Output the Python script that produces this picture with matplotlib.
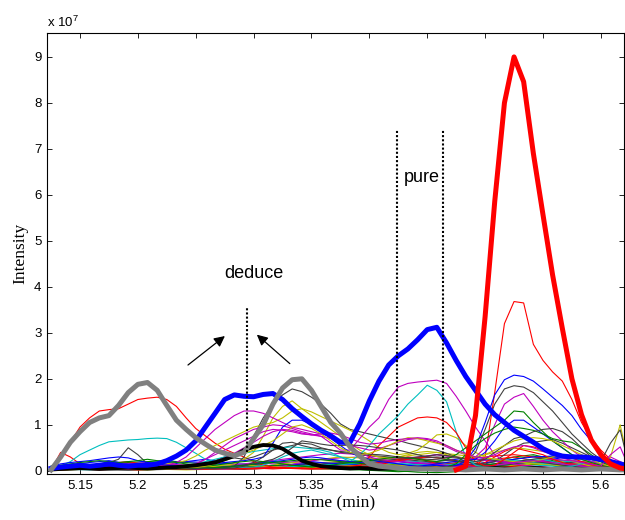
import matplotlib
matplotlib.use("Agg")
import matplotlib.pyplot as plt
from matplotlib.ticker import FuncFormatter

# scan times (min), one scan every 0.5 s
scan_time = [5.1250, 5.1333, 5.1417, 5.1500, 5.1583, 5.1667, 5.1750, 5.1833, 5.1917, 5.2000,
             5.2083, 5.2167, 5.2250, 5.2333, 5.2417, 5.2500, 5.2583, 5.2667, 5.2750, 5.2833,
             5.2917, 5.3000, 5.3083, 5.3167, 5.3250, 5.3333, 5.3417, 5.3500, 5.3583, 5.3667,
             5.3750, 5.3833, 5.3917, 5.4000, 5.4083, 5.4167, 5.4250, 5.4333, 5.4417, 5.4500,
             5.4583, 5.4667, 5.4750, 5.4833, 5.4917, 5.5000, 5.5083, 5.5167, 5.5250, 5.5333,
             5.5417, 5.5500, 5.5583, 5.5667, 5.5750, 5.5833, 5.5917, 5.6000, 5.6083, 5.6167,
             5.6250]

# intensities in units of 1e7
# the pure compound trace is only extracted from scan 42 on
red_start = 42
red_main = [0.02, 0.10, 1.20, 3.35, 5.85, 8.00, 9.00, 8.46,
            6.90, 5.57, 4.26, 3.10, 2.00, 1.22, 0.67, 0.35, 0.15, 0.06, 0.03]
blue_main = [0.05, 0.08, 0.10, 0.12, 0.10, 0.12, 0.15, 0.12, 0.10, 0.12,
             0.12, 0.15, 0.22, 0.32, 0.45, 0.65, 0.95, 1.25, 1.55, 1.65,
             1.62, 1.61, 1.66, 1.68, 1.55, 1.35, 1.18, 1.02, 0.88, 0.76,
             0.62, 0.62, 1.02, 1.52, 1.95, 2.30, 2.50, 2.65, 2.85, 3.07,
             3.12, 2.78, 2.40, 2.05, 1.75, 1.45, 1.22, 1.05, 0.88, 0.75,
             0.62, 0.48, 0.38, 0.32, 0.30, 0.30, 0.28, 0.25, 0.20, 0.15, 0.10]
gray_main = [0.02, 0.30, 0.62, 0.85, 1.05, 1.15, 1.20, 1.42, 1.70, 1.88,
             1.92, 1.75, 1.42, 1.10, 0.90, 0.72, 0.58, 0.45, 0.38, 0.33,
             0.40, 0.70, 1.00, 1.45, 1.80, 1.98, 2.00, 1.75, 1.40, 1.05,
             0.82, 0.52, 0.32, 0.15, 0.10, 0.08, 0.06, 0.05, 0.04, 0.04,
             0.03, 0.04, 0.03, 0.02, 0.03, 0.04, 0.03, 0.02, 0.03, 0.04,
             0.03, 0.02, 0.03, 0.04, 0.03, 0.02, 0.03, 0.04, 0.03, 0.02, 0.02]
black_main = [0.03, 0.04, 0.05, 0.06, 0.05, 0.04, 0.05, 0.06, 0.07, 0.06,
              0.05, 0.06, 0.07, 0.08, 0.10, 0.12, 0.15, 0.18, 0.25, 0.32,
              0.45, 0.52, 0.56, 0.55, 0.48, 0.35, 0.22, 0.15, 0.10, 0.08,
              0.06, 0.05, 0.06, 0.05, 0.04, 0.05, 0.06, 0.05, 0.04, 0.05,
              0.04, 0.05, 0.04, 0.03, 0.04, 0.05, 0.06, 0.05, 0.04, 0.05,
              0.06, 0.05, 0.04, 0.05, 0.04, 0.03, 0.04, 0.05, 0.04, 0.03, 0.02]

# thin traces, full scan rate
ion_traces = [
    ('r', [0.03, 0.04, 0.05, 0.04, 0.03, 0.04, 0.05, 0.06, 0.05, 0.04,
           0.03, 0.04, 0.05, 0.06, 0.05, 0.04, 0.03, 0.04, 0.05, 0.06,
           0.05, 0.04, 0.05, 0.06, 0.07, 0.06, 0.05, 0.04, 0.05, 0.06,
           0.08, 0.10, 0.12, 0.15, 0.18, 0.20, 0.22, 0.25, 0.28, 0.30,
           0.28, 0.25, 0.22, 0.15, 0.10, 0.30, 1.70, 3.20, 3.68, 3.65,
           2.75, 2.40, 2.15, 1.95, 1.55, 1.05, 0.70, 0.45, 0.25, 0.10, 0.05]),
    ('r', [0.05, 0.30, 0.62, 0.95, 1.15, 1.30, 1.33, 1.35, 1.45, 1.55,
           1.58, 1.60, 1.55, 1.40, 1.15, 0.92, 0.76, 0.60, 0.47, 0.38,
           0.30, 0.20, 0.12, 0.08, 0.06, 0.05, 0.06, 0.05, 0.04, 0.05,
           0.06, 0.05, 0.04, 0.05, 0.06, 0.05, 0.04, 0.05, 0.06, 0.05,
           0.04, 0.05, 0.06, 0.05, 0.04, 0.05, 0.06, 0.08, 0.10, 0.12,
           0.10, 0.08, 0.06, 0.05, 0.06, 0.05, 0.04, 0.05, 0.06, 0.05, 0.04]),
    ('r', [0.02, 0.40, 0.30, 0.15, 0.10, 0.12, 0.15, 0.18, 0.20, 0.16,
           0.12, 0.10, 0.08, 0.06, 0.05, 0.06, 0.08, 0.07, 0.06, 0.05,
           0.04, 0.05, 0.06, 0.07, 0.06, 0.05, 0.04, 0.05, 0.06, 0.05,
           0.06, 0.07, 0.08, 0.10, 0.12, 0.18, 0.25, 0.30, 0.28, 0.22,
           0.15, 0.10, 0.08, 0.06, 0.10, 0.18, 0.30, 0.42, 0.50, 0.45,
           0.40, 0.35, 0.25, 0.18, 0.12, 0.08, 0.06, 0.05, 0.04, 0.03, 0.02]),
    ('c', [0.04, 0.10, 0.20, 0.35, 0.45, 0.55, 0.63, 0.65, 0.67, 0.68,
           0.70, 0.71, 0.70, 0.62, 0.50, 0.38, 0.25, 0.15, 0.10, 0.08,
           0.06, 0.08, 0.12, 0.20, 0.30, 0.38, 0.42, 0.45, 0.40, 0.35,
           0.30, 0.25, 0.20, 0.15, 0.12, 0.10, 0.08, 0.07, 0.06, 0.05,
           0.06, 0.05, 0.04, 0.05, 0.06, 0.08, 0.10, 0.12, 0.15, 0.18,
           0.22, 0.25, 0.20, 0.15, 0.10, 0.08, 0.06, 0.05, 0.04, 0.03, 0.02]),
    ('k', [0.05, 0.06, 0.08, 0.10, 0.12, 0.15, 0.18, 0.25, 0.50, 0.35,
           0.15, 0.10, 0.08, 0.06, 0.08, 0.10, 0.15, 0.22, 0.30, 0.28,
           0.25, 0.30, 0.38, 0.45, 0.50, 0.55, 0.60, 0.58, 0.50, 0.45,
           0.40, 0.38, 0.35, 0.33, 0.32, 0.30, 0.28, 0.28, 0.26, 0.25,
           0.24, 0.22, 0.20, 0.18, 0.16, 0.15, 0.20, 0.35, 0.50, 0.60,
           0.62, 0.65, 0.68, 0.60, 0.50, 0.40, 0.30, 0.22, 0.15, 0.10, 0.05]),
    ('k', [0.03, 0.04, 0.05, 0.04, 0.05, 0.06, 0.05, 0.06, 0.05, 0.06,
           0.05, 0.06, 0.07, 0.06, 0.05, 0.06, 0.07, 0.08, 0.09, 0.10,
           0.30, 0.75, 1.15, 1.45, 1.65, 1.78, 1.72, 1.60, 1.45, 1.25,
           1.02, 0.90, 0.85, 0.80, 0.75, 0.70, 0.66, 0.60, 0.55, 0.50,
           0.45, 0.38, 0.30, 0.20, 0.15, 0.12, 0.10, 0.12, 0.15, 0.18,
           0.20, 0.18, 0.15, 0.12, 0.10, 0.08, 0.06, 0.05, 0.04, 0.03, 0.02]),
    ('y', [0.02, 0.03, 0.04, 0.05, 0.04, 0.05, 0.06, 0.05, 0.04, 0.05,
           0.06, 0.05, 0.04, 0.05, 0.06, 0.07, 0.08, 0.10, 0.12, 0.15,
           0.25, 0.40, 0.75, 1.15, 1.40, 1.52, 1.35, 1.20, 1.05, 0.90,
           0.75, 0.60, 0.45, 0.35, 0.30, 0.28, 0.30, 0.35, 0.40, 0.42,
           0.40, 0.35, 0.30, 0.28, 0.30, 0.35, 0.40, 0.45, 0.50, 0.48,
           0.45, 0.42, 0.38, 0.30, 0.22, 0.15, 0.10, 0.08, 0.06, 0.05, 0.04]),
    ('y', [0.05, 0.06, 0.05, 0.06, 0.07, 0.06, 0.05, 0.06, 0.07, 0.08,
           0.10, 0.12, 0.15, 0.18, 0.22, 0.32, 0.45, 0.55, 0.65, 0.75,
           0.85, 0.95, 1.00, 1.05, 1.15, 1.30, 1.35, 1.28, 1.18, 1.08,
           0.98, 0.88, 0.78, 0.65, 0.50, 0.40, 0.35, 0.38, 0.45, 0.60,
           0.78, 0.80, 0.72, 0.55, 0.40, 0.30, 0.25, 0.22, 0.20, 0.18,
           0.20, 0.25, 0.30, 0.35, 0.32, 0.25, 0.18, 0.12, 0.30, 1.00, 0.03]),
    ('m', [0.04, 0.05, 0.06, 0.05, 0.06, 0.07, 0.08, 0.07, 0.06, 0.07,
           0.08, 0.10, 0.12, 0.18, 0.30, 0.50, 0.70, 0.90, 1.05, 1.20,
           1.30, 1.30, 1.25, 1.15, 1.05, 0.95, 0.90, 0.85, 0.80, 0.75,
           0.65, 0.50, 0.40, 0.30, 0.25, 0.22, 0.20, 0.18, 0.16, 0.15,
           0.14, 0.12, 0.10, 0.09, 0.08, 0.10, 0.12, 0.15, 0.18, 0.20,
           0.22, 0.20, 0.18, 0.15, 0.12, 0.10, 0.08, 0.07, 0.06, 0.05, 0.04]),
    ('m', [0.05, 0.06, 0.07, 0.08, 0.10, 0.12, 0.14, 0.15, 0.14, 0.12,
           0.10, 0.08, 0.07, 0.08, 0.10, 0.15, 0.25, 0.40, 0.55, 0.70,
           0.80, 0.90, 0.95, 1.00, 0.98, 0.92, 0.85, 0.80, 0.75, 0.60,
           0.45, 0.45, 0.70, 0.95, 1.15, 1.55, 1.82, 1.90, 1.93, 1.95,
           1.97, 1.90, 1.62, 1.30, 0.95, 0.65, 0.35, 0.20, 0.15, 0.12,
           0.10, 0.08, 0.07, 0.06, 0.05, 0.04, 0.05, 0.04, 0.03, 0.04, 0.03]),
    ('c', [0.03, 0.04, 0.05, 0.04, 0.05, 0.06, 0.05, 0.04, 0.05, 0.06,
           0.05, 0.06, 0.08, 0.10, 0.12, 0.15, 0.20, 0.25, 0.30, 0.35,
           0.38, 0.42, 0.45, 0.48, 0.50, 0.52, 0.50, 0.48, 0.45, 0.40,
           0.30, 0.20, 0.35, 0.55, 0.80, 1.00, 1.20, 1.45, 1.65, 1.86,
           1.75, 1.50, 0.85, 0.30, 0.12, 0.08, 0.06, 0.05, 0.06, 0.08,
           0.10, 0.12, 0.10, 0.08, 0.10, 0.15, 0.20, 0.15, 0.10, 0.05, 0.03]),
    ('r', [0.03, 0.02, 0.03, 0.04, 0.03, 0.02, 0.03, 0.04, 0.03, 0.02,
           0.03, 0.04, 0.05, 0.04, 0.03, 0.04, 0.05, 0.06, 0.05, 0.04,
           0.05, 0.06, 0.05, 0.04, 0.05, 0.06, 0.05, 0.04, 0.05, 0.06,
           0.05, 0.06, 0.10, 0.30, 0.55, 0.75, 0.95, 1.05, 1.15, 1.17,
           1.15, 1.05, 0.83, 0.50, 0.20, 0.10, 0.12, 0.25, 0.40, 0.55,
           0.52, 0.45, 0.40, 0.35, 0.28, 0.20, 0.15, 0.10, 0.08, 0.05, 0.03]),
    ('b', [0.10, 0.15, 0.18, 0.20, 0.22, 0.25, 0.28, 0.30, 0.28, 0.22,
           0.18, 0.15, 0.12, 0.10, 0.08, 0.10, 0.12, 0.15, 0.18, 0.20,
           0.22, 0.25, 0.30, 0.60, 0.95, 1.10, 1.10, 1.00, 0.85, 0.70,
           0.55, 0.40, 0.30, 0.25, 0.20, 0.18, 0.15, 0.12, 0.10, 0.12,
           0.15, 0.18, 0.20, 0.22, 0.25, 0.40, 0.65, 0.95, 1.10, 1.10,
           0.95, 0.80, 0.65, 0.50, 0.35, 0.30, 0.28, 0.25, 0.20, 0.12, 0.05]),
    ('b', [0.05, 0.06, 0.05, 0.04, 0.05, 0.06, 0.05, 0.04, 0.05, 0.06,
           0.05, 0.04, 0.05, 0.06, 0.05, 0.04, 0.05, 0.06, 0.08, 0.10,
           0.12, 0.15, 0.18, 0.20, 0.22, 0.25, 0.28, 0.30, 0.28, 0.25,
           0.22, 0.20, 0.18, 0.15, 0.12, 0.10, 0.08, 0.07, 0.08, 0.10,
           0.12, 0.10, 0.12, 0.20, 0.50, 1.05, 1.65, 1.98, 2.08, 2.05,
           1.95, 1.78, 1.60, 1.42, 1.20, 0.90, 0.65, 0.38, 0.20, 0.10, 0.05]),
    ('k', [0.04, 0.05, 0.06, 0.05, 0.04, 0.05, 0.06, 0.05, 0.04, 0.05,
           0.06, 0.07, 0.08, 0.07, 0.06, 0.05, 0.06, 0.07, 0.08, 0.10,
           0.12, 0.15, 0.20, 0.25, 0.35, 0.50, 0.65, 0.62, 0.58, 0.55,
           0.55, 0.56, 0.55, 0.53, 0.50, 0.48, 0.45, 0.40, 0.35, 0.30,
           0.28, 0.25, 0.22, 0.20, 0.40, 0.90, 1.45, 1.78, 1.85, 1.82,
           1.70, 1.50, 1.30, 1.05, 0.80, 0.60, 0.40, 0.25, 0.15, 0.10, 0.05]),
    ('m', [0.04, 0.05, 0.06, 0.07, 0.06, 0.05, 0.04, 0.05, 0.06, 0.07,
           0.06, 0.05, 0.06, 0.07, 0.10, 0.15, 0.25, 0.35, 0.45, 0.55,
           0.65, 0.75, 0.85, 0.90, 0.88, 0.85, 0.80, 0.78, 0.75, 0.70,
           0.62, 0.55, 0.50, 0.45, 0.48, 0.55, 0.62, 0.68, 0.70, 0.68,
           0.62, 0.52, 0.42, 0.35, 0.30, 0.50, 1.00, 1.45, 1.60, 1.68,
           1.40, 1.10, 0.85, 0.65, 0.45, 0.30, 0.20, 0.15, 0.10, 0.06, 0.04]),
    ('g', [0.10, 0.12, 0.15, 0.18, 0.20, 0.22, 0.20, 0.18, 0.20, 0.22,
           0.25, 0.22, 0.20, 0.18, 0.15, 0.12, 0.10, 0.12, 0.15, 0.18,
           0.20, 0.22, 0.20, 0.18, 0.15, 0.12, 0.10, 0.08, 0.10, 0.12,
           0.15, 0.18, 0.20, 0.22, 0.25, 0.28, 0.30, 0.28, 0.25, 0.22,
           0.20, 0.25, 0.35, 0.50, 0.65, 0.80, 0.95, 1.10, 1.30, 1.28,
           1.05, 0.85, 0.65, 0.50, 0.35, 0.25, 0.18, 0.12, 0.08, 0.05, 0.03]),
    ('g', [0.02, 0.03, 0.04, 0.05, 0.06, 0.05, 0.04, 0.05, 0.06, 0.07,
           0.08, 0.07, 0.06, 0.05, 0.04, 0.05, 0.06, 0.07, 0.08, 0.10,
           0.12, 0.14, 0.16, 0.18, 0.20, 0.22, 0.24, 0.25, 0.24, 0.22,
           0.20, 0.18, 0.16, 0.14, 0.12, 0.10, 0.09, 0.08, 0.07, 0.06,
           0.06, 0.08, 0.15, 0.35, 0.55, 0.70, 0.82, 0.90, 0.95, 0.92,
           0.88, 0.80, 0.70, 0.65, 0.62, 0.50, 0.35, 0.20, 0.10, 0.05, 0.03]),
    ('k', [0.05, 0.04, 0.05, 0.06, 0.05, 0.04, 0.05, 0.06, 0.05, 0.04,
           0.05, 0.06, 0.05, 0.04, 0.05, 0.06, 0.05, 0.04, 0.05, 0.06,
           0.10, 0.18, 0.30, 0.45, 0.60, 0.62, 0.55, 0.50, 0.48, 0.45,
           0.42, 0.40, 0.38, 0.36, 0.35, 0.33, 0.30, 0.28, 0.30, 0.32,
           0.35, 0.33, 0.30, 0.25, 0.20, 0.25, 0.40, 0.55, 0.70, 0.75,
           0.85, 0.90, 0.92, 0.85, 0.70, 0.50, 0.30, 0.20, 0.60, 0.89, 0.03]),
    ('y', [0.03, 0.04, 0.03, 0.04, 0.05, 0.04, 0.03, 0.04, 0.05, 0.06,
           0.05, 0.04, 0.05, 0.06, 0.07, 0.08, 0.10, 0.15, 0.22, 0.30,
           0.38, 0.45, 0.55, 0.65, 0.80, 0.95, 1.00, 0.92, 0.80, 0.65,
           0.50, 0.40, 0.35, 0.38, 0.45, 0.55, 0.65, 0.72, 0.70, 0.65,
           0.60, 0.55, 0.45, 0.35, 0.30, 0.35, 0.45, 0.55, 0.65, 0.70,
           0.72, 0.70, 0.65, 0.55, 0.45, 0.35, 0.25, 0.15, 0.10, 0.06, 0.04]),
    ('m', [0.06, 0.05, 0.04, 0.05, 0.06, 0.07, 0.06, 0.05, 0.04, 0.05,
           0.06, 0.07, 0.08, 0.09, 0.10, 0.12, 0.15, 0.20, 0.28, 0.38,
           0.50, 0.62, 0.75, 0.85, 0.90, 0.88, 0.82, 0.78, 0.80, 0.82,
           0.78, 0.70, 0.62, 0.58, 0.60, 0.65, 0.68, 0.70, 0.72, 0.70,
           0.65, 0.55, 0.45, 0.38, 0.30, 0.28, 0.35, 0.45, 0.52, 0.55,
           0.50, 0.42, 0.35, 0.28, 0.22, 0.18, 0.14, 0.10, 0.35, 0.52, 0.03]),
]

# low-level traces, every second scan
baseline_traces = [
    ('b', [0.05, 0.12, 0.18, 0.22, 0.15, 0.10, 0.12, 0.20, 0.25, 0.18, 0.12, 0.10, 0.15, 0.22, 0.18, 0.12,
           0.10, 0.08, 0.12, 0.15, 0.20, 0.25, 0.30, 0.22, 0.15, 0.18, 0.25, 0.32, 0.25, 0.15, 0.05]),
    ('g', [0.02, 0.08, 0.12, 0.15, 0.18, 0.20, 0.22, 0.18, 0.15, 0.12, 0.10, 0.08, 0.06, 0.05, 0.04, 0.03,
           0.02, 0.00, -0.02, 0.00, 0.05, 0.10, 0.15, 0.20, 0.30, 0.35, 0.25, 0.15, 0.10, 0.08, 0.05]),
    ('r', [0.03, 0.05, 0.10, 0.08, 0.06, 0.05, 0.04, 0.03, 0.05, 0.08, 0.10, 0.12, 0.10, 0.08, 0.06, 0.05,
           0.04, 0.03, 0.05, 0.08, 0.12, 0.15, 0.20, 0.25, 0.30, 0.22, 0.15, 0.10, 0.08, 0.05, 0.03]),
    ('c', [0.02, 0.04, 0.06, 0.08, 0.10, 0.08, 0.06, 0.05, 0.08, 0.12, 0.15, 0.18, 0.20, 0.15, 0.10, 0.08,
           0.12, 0.18, 0.22, 0.20, 0.15, 0.12, 0.10, 0.15, 0.20, 0.25, 0.32, 0.28, 0.20, 0.12, 0.05]),
    ('m', [0.04, 0.06, 0.08, 0.10, 0.08, 0.06, 0.05, 0.06, 0.08, 0.10, 0.12, 0.15, 0.18, 0.20, 0.25, 0.28,
           0.30, 0.25, 0.20, 0.18, 0.15, 0.12, 0.10, 0.12, 0.15, 0.18, 0.20, 0.15, 0.12, 0.20, 0.10]),
    ('y', [0.00, 0.02, 0.04, 0.06, 0.05, 0.04, 0.03, 0.02, 0.03, 0.05, 0.08, 0.10, 0.12, 0.15, 0.18, 0.20,
           0.22, 0.25, 0.28, 0.25, 0.20, 0.15, 0.12, 0.10, 0.08, 0.06, 0.05, 0.04, 0.03, 0.02, 0.01]),
    ('k', [0.03, 0.05, 0.04, 0.06, 0.08, 0.10, 0.08, 0.06, 0.05, 0.06, 0.08, 0.10, 0.12, 0.14, 0.12, 0.10,
           0.15, 0.20, 0.25, 0.22, 0.18, 0.15, 0.12, 0.15, 0.18, 0.22, 0.20, 0.18, 0.15, 0.10, 0.05]),
    ('b', [0.06, 0.08, 0.10, 0.12, 0.14, 0.16, 0.18, 0.20, 0.18, 0.16, 0.14, 0.12, 0.10, 0.08, 0.10, 0.12,
           0.15, 0.18, 0.20, 0.15, 0.12, 0.10, 0.08, 0.10, 0.12, 0.20, 0.28, 0.30, 0.28, 0.20, 0.10]),
    ('g', [0.01, 0.03, 0.05, 0.07, 0.09, 0.11, 0.13, 0.11, 0.09, 0.07, 0.05, 0.07, 0.09, 0.11, 0.13, 0.15,
           0.17, 0.15, 0.13, 0.11, 0.09, 0.07, 0.09, 0.15, 0.25, 0.32, 0.22, 0.12, 0.08, 0.05, 0.02]),
    ('r', [0.02, 0.04, 0.03, 0.05, 0.07, 0.06, 0.04, 0.03, 0.05, 0.07, 0.09, 0.08, 0.06, 0.05, 0.07, 0.10,
           0.08, 0.06, 0.04, 0.06, 0.10, 0.18, 0.28, 0.32, 0.35, 0.30, 0.25, 0.20, 0.15, 0.10, 0.05]),
    ('c', [0.05, 0.03, 0.02, 0.04, 0.06, 0.08, 0.10, 0.12, 0.10, 0.08, 0.06, 0.05, 0.07, 0.10, 0.13, 0.16,
           0.20, 0.18, 0.15, 0.12, 0.10, 0.08, 0.06, 0.08, 0.12, 0.18, 0.25, 0.20, 0.12, 0.08, 0.04]),
    ('m', [0.02, 0.05, 0.08, 0.12, 0.15, 0.18, 0.15, 0.12, 0.10, 0.12, 0.15, 0.20, 0.25, 0.30, 0.35, 0.38,
           0.35, 0.30, 0.25, 0.30, 0.35, 0.30, 0.25, 0.22, 0.20, 0.18, 0.15, 0.12, 0.10, 0.08, 0.05]),
    ('y', [0.04, 0.06, 0.08, 0.06, 0.04, 0.05, 0.07, 0.09, 0.11, 0.09, 0.07, 0.10, 0.15, 0.20, 0.25, 0.30,
           0.28, 0.25, 0.30, 0.35, 0.40, 0.35, 0.30, 0.25, 0.20, 0.15, 0.18, 0.22, 0.18, 0.12, 0.06]),
    ('k', [0.01, 0.02, 0.03, 0.02, 0.01, 0.02, 0.03, 0.04, 0.05, 0.04, 0.03, 0.05, 0.08, 0.12, 0.15, 0.18,
           0.20, 0.22, 0.25, 0.28, 0.30, 0.28, 0.25, 0.22, 0.20, 0.25, 0.30, 0.32, 0.28, 0.18, 0.08]),
    ('b', [0.03, 0.05, 0.07, 0.09, 0.12, 0.15, 0.12, 0.09, 0.07, 0.05, 0.07, 0.09, 0.12, 0.15, 0.18, 0.15,
           0.12, 0.10, 0.08, 0.06, 0.08, 0.12, 0.15, 0.20, 0.25, 0.30, 0.32, 0.30, 0.25, 0.15, 0.06]),
    ('g', [0.05, 0.04, 0.03, 0.05, 0.07, 0.09, 0.07, 0.05, 0.04, 0.06, 0.08, 0.10, 0.12, 0.10, 0.08, 0.06,
           0.04, 0.02, 0.00, -0.03, -0.04, -0.02, 0.02, 0.06, 0.10, 0.14, 0.12, 0.10, 0.08, 0.06, 0.04]),
    ('r', [0.04, 0.06, 0.05, 0.04, 0.03, 0.05, 0.07, 0.06, 0.05, 0.04, 0.06, 0.08, 0.07, 0.06, 0.05, 0.04,
           0.06, 0.08, 0.12, 0.10, 0.08, 0.06, 0.05, 0.10, 0.15, 0.20, 0.18, 0.15, 0.12, 0.08, 0.05]),
    ('c', [0.02, 0.04, 0.06, 0.05, 0.04, 0.06, 0.08, 0.10, 0.12, 0.10, 0.08, 0.06, 0.08, 0.10, 0.12, 0.14,
           0.16, 0.18, 0.16, 0.14, 0.12, 0.15, 0.20, 0.25, 0.22, 0.18, 0.15, 0.22, 0.30, 0.20, 0.08]),
    ('m', [0.03, 0.04, 0.05, 0.06, 0.07, 0.08, 0.07, 0.06, 0.05, 0.04, 0.05, 0.06, 0.10, 0.18, 0.25, 0.22,
           0.18, 0.15, 0.20, 0.28, 0.35, 0.30, 0.25, 0.20, 0.18, 0.20, 0.25, 0.22, 0.18, 0.30, 0.10]),
    ('y', [0.02, 0.03, 0.05, 0.04, 0.03, 0.02, 0.04, 0.06, 0.08, 0.10, 0.12, 0.10, 0.08, 0.06, 0.08, 0.10,
           0.12, 0.14, 0.12, 0.10, 0.08, 0.06, 0.05, 0.08, 0.12, 0.15, 0.12, 0.10, 0.08, 0.06, 0.04]),
]

# marker lines and labels
deduce_time = 5.2942
deduce_span = (0.40, 3.57)
pure_times = [5.4237, 5.4635]
pure_span = (0.28, 7.41)
arrows = [((5.2433, 2.30), (5.2752, 2.93)),
          ((5.3313, 2.33), (5.3028, 2.96))]

SCALE = 1e7
matlab_colors = {
    'b': (0, 0, 1), 'g': (0, 0.5, 0), 'r': (1, 0, 0), 'c': (0, 0.75, 0.75),
    'm': (0.75, 0, 0.75), 'y': (0.75, 0.75, 0), 'k': (0.25, 0.25, 0.25),
}


def scaled(values):
    return [v * SCALE for v in values]


def main():
    plt.rcParams['font.family'] = ['Liberation Sans', 'DejaVu Sans']
    plt.rcParams['mathtext.default'] = 'regular'

    fig = plt.figure(figsize=(6.25, 5.2), dpi=100)
    ax = fig.add_axes([47 / 625, 46 / 520, 577 / 625, 441 / 520])

    coarse_time = scan_time[::2]
    for col, vals in baseline_traces:
        ax.plot(coarse_time, scaled(vals), color=matlab_colors[col], lw=0.8)
    for col, vals in ion_traces:
        ax.plot(scan_time, scaled(vals), color=matlab_colors[col], lw=0.8)

    ax.plot(scan_time, scaled(black_main), color='k', lw=2.8)
    ax.plot(scan_time, scaled(blue_main), color=(0, 0, 1), lw=3.6)
    ax.plot(scan_time, scaled(gray_main), color=(0.5, 0.5, 0.5), lw=3.6)
    ax.plot(scan_time[red_start:], scaled(red_main), color=(1, 0, 0), lw=3.6)

    dots = (0, (1, 1))
    ax.plot([deduce_time, deduce_time], scaled(deduce_span), color='k', lw=1.5, ls=dots)
    for pt in pure_times:
        ax.plot([pt, pt], scaled(pure_span), color='k', lw=1.5, ls=dots)

    ax.text(5.3003, 4.30 * SCALE, 'deduce', fontsize=13, ha='center', va='center')
    ax.text(5.4453, 6.37 * SCALE, 'pure', fontsize=13, ha='center', va='center')
    for (x0, y0), (x1, y1) in arrows:
        ax.annotate('', xy=(x1, y1 * SCALE), xytext=(x0, y0 * SCALE),
                    arrowprops=dict(arrowstyle='-|>', color='k', lw=0.9,
                                    mutation_scale=16, shrinkA=0, shrinkB=0))

    ax.set_xlim(5.1215, 5.62)
    ax.set_ylim(-0.07 * SCALE, 9.52 * SCALE)
    ax.set_xticks([5.15, 5.2, 5.25, 5.3, 5.35, 5.4, 5.45, 5.5, 5.55, 5.6])
    ax.set_xticklabels(['5.15', '5.2', '5.25', '5.3', '5.35', '5.4', '5.45', '5.5', '5.55', '5.6'])
    ax.set_yticks([i * SCALE for i in range(10)])
    ax.yaxis.set_major_formatter(FuncFormatter(lambda v, _: '%d' % round(v / SCALE)))
    ax.tick_params(direction='in', top=True, right=True, length=3.6, width=0.6,
                   labelsize=9.5, pad=4)
    for sp in ax.spines.values():
        sp.set_linewidth(0.8)
        sp.set_zorder(5)

    ax.set_xlabel('Time (min)', family='Liberation Serif', fontsize=12.5, labelpad=3)
    ax.set_ylabel('Intensity', family='Liberation Serif', fontsize=12.5, labelpad=4)
    fig.text(47 / 625, 1 - 27 / 520, 'x 10$^{7}$', fontsize=9.5, ha='left', va='baseline')

    fig.savefig('out.png', dpi=100)


if __name__ == "__main__":
    main()
